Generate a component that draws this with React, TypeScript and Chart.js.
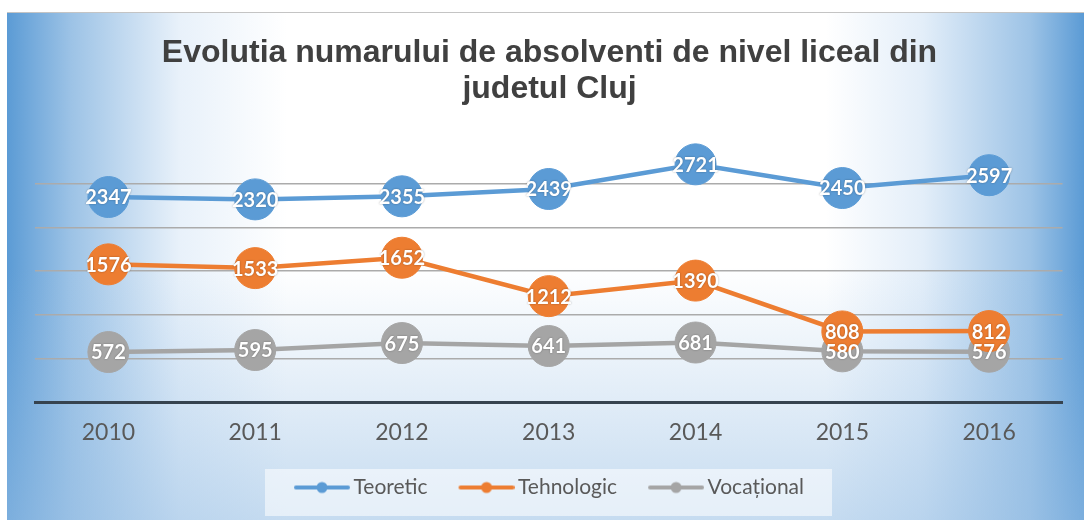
import React, { useEffect, useRef } from "react";
import { Chart, registerables } from "chart.js";

Chart.register(...registerables);

const years = ["2010", "2011", "2012", "2013", "2014", "2015", "2016"];
const teoretic = [2347, 2320, 2355, 2439, 2721, 2450, 2597];
const tehnologic = [1576, 1533, 1652, 1212, 1390, 808, 812];
const vocational = [572, 595, 675, 641, 681, 580, 576];
const seriesNames = ["Teoretic", "Tehnologic", "Vocațional"];
const seriesColors = ["#5b9bd5", "#ed7d31", "#a5a5a5"];
const titleLines = ["Evolutia numarului de absolventi de nivel liceal din", "judetul Cluj"];
const yMin = 0;
const yMax = 3000;
const yStep = 500;
const legendShift = 11;

function makeLegendIcon(color: string): HTMLCanvasElement {
  const c = document.createElement("canvas");
  c.width = 84;
  c.height = 14;
  const ctx = c.getContext("2d")!;
  ctx.strokeStyle = color;
  ctx.lineWidth = 4;
  ctx.lineCap = "round";
  ctx.beginPath();
  ctx.moveTo(30, 7);
  ctx.lineTo(82, 7);
  ctx.stroke();
  ctx.fillStyle = color;
  ctx.beginPath();
  ctx.arc(56, 7, 5.5, 0, Math.PI * 2);
  ctx.fill();
  return c;
}

const dataLabelPlugin = {
  id: "dataLabels",
  afterDatasetsDraw(chart: any) {
    const ctx = chart.ctx;
    ctx.save();
    ctx.font = "bold 20px Lato";
    ctx.textAlign = "center";
    ctx.textBaseline = "middle";
    ctx.fillStyle = "#ffffff";
    ctx.shadowColor = "rgba(0,0,0,0.35)";
    ctx.shadowBlur = 2;
    for (let d = chart.data.datasets.length - 1; d >= 0; d--) {
      const meta = chart.getDatasetMeta(d);
      const values = chart.data.datasets[d].data as number[];
      meta.data.forEach((pt: any, i: number) => {
        ctx.fillText(String(values[i]), pt.x, pt.y + 1);
      });
    }
    ctx.restore();
  },
};

const legendBgPlugin = {
  id: "legendBg",
  afterLayout(chart: any) {
    const lg = chart.legend;
    if (!lg) return;
    lg.left -= legendShift;
    lg.right -= legendShift;
  },
  beforeDraw(chart: any) {
    const lg = chart.legend;
    if (!lg || !lg.legendHitBoxes || !lg.legendHitBoxes.length) return;
    const boxes = lg.legendHitBoxes;
    const cx = (lg.left + lg.right) / 2;
    const first = boxes[0];
    const last = boxes[boxes.length - 1];
    const contentW = last.left + last.width - first.left;
    const left = cx - contentW / 2 - 8;
    const right = cx + contentW / 2 + 28;
    const ctx = chart.ctx;
    ctx.save();
    ctx.fillStyle = "rgba(255,255,255,0.55)";
    ctx.fillRect(left, lg.top + 2, right - left, lg.bottom - lg.top + 6);
    ctx.restore();
  },
};

export default function App() {
  const ref = useRef<HTMLCanvasElement | null>(null);
  useEffect(() => {
    if (!ref.current) return;
    const seriesData = [teoretic, tehnologic, vocational];
    const icons = seriesColors.map((c) => makeLegendIcon(c));
    const chart = new Chart(ref.current, {
      type: "line",
      data: {
        labels: years,
        datasets: seriesData.map((vals, i) => ({
          label: seriesNames[i],
          data: vals,
          borderColor: seriesColors[i],
          backgroundColor: seriesColors[i],
          pointBackgroundColor: seriesColors[i],
          pointBorderColor: seriesColors[i],
          pointRadius: 20.5,
          pointHoverRadius: 20.5,
          pointBorderWidth: 1,
          borderWidth: 4.5,
          tension: 0,
          pointStyle: "circle",
        })),
      },
      plugins: [legendBgPlugin, dataLabelPlugin],
      options: {
        animation: false,
        responsive: true,
        maintainAspectRatio: false,
        layout: { padding: { left: 28, right: 20, top: 14, bottom: 12 } },
        scales: {
          x: {
            offset: true,
            grid: { display: false },
            border: { display: true, color: "#36434f", width: 3 },
            ticks: { color: "#595959", font: { family: "Lato", size: 23 }, padding: 9 },
            afterFit: (scale: any) => {
              scale.height = 65;
            },
          },
          y: {
            min: yMin,
            max: yMax,
            ticks: { stepSize: yStep, display: false },
            border: { display: false },
            grid: {
              drawTicks: false,
              lineWidth: 1.5,
              color: (c: any) =>
                c.tick && (c.tick.value === yMin || c.tick.value === yMax) ? "rgba(0,0,0,0)" : "#ababab",
            },
          },
        },
        plugins: {
          title: {
            display: true,
            text: titleLines,
            color: "#404040",
            font: { family: "Liberation Sans", size: 32, weight: "bold", lineHeight: 1.125 },
            padding: { top: 8, bottom: 33 },
          },
          legend: {
            position: "bottom",
            labels: {
              usePointStyle: true,
              pointStyleWidth: 70,
              color: "#595959",
              font: { family: "Lato", size: 21 },
              padding: 10,
              generateLabels: (ch: any) =>
                ch.data.datasets.map((ds: any, i: number) => ({
                  text: ds.label,
                  fillStyle: seriesColors[i],
                  strokeStyle: seriesColors[i],
                  lineWidth: 0,
                  pointStyle: icons[i],
                  fontColor: "#595959",
                  hidden: false,
                  datasetIndex: i,
                })),
            },
          },
          tooltip: { enabled: false },
        },
      },
    });
    return () => chart.destroy();
  }, []);

  return (
    <div
      style={{
        position: "fixed",
        left: 7,
        top: 12,
        width: 1077,
        height: 508,
        borderTop: "1px solid #c4c4c4",
        boxSizing: "border-box",
        background:
          "linear-gradient(to bottom, rgba(255,255,255,0) 50%, rgba(150,190,228,0.55) 100%), linear-gradient(to right, #5b9bd5 0%, #9dc3e6 6%, #e8f1fa 16%, #ffffff 26%, #ffffff 76%, #e3eef9 85%, #9dc3e6 95%, #5b9bd5 100%)",
      }}
    >
      <canvas ref={ref} />
    </div>
  );
}
